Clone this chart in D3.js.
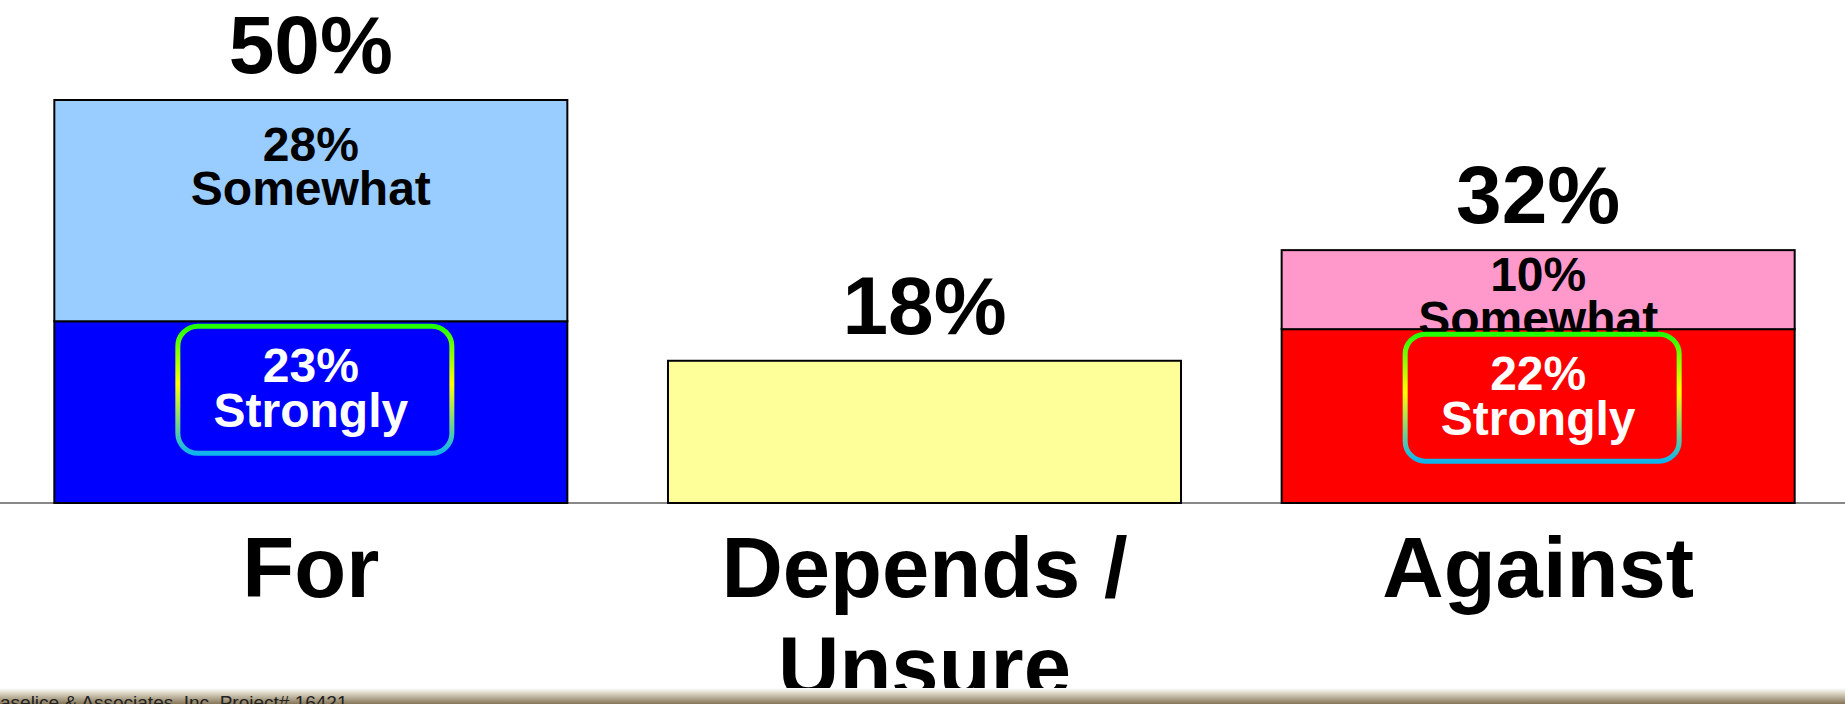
<!DOCTYPE html>
<html>
<head>
<meta charset="utf-8">
<script src="https://cdn.jsdelivr.net/npm/d3@7"></script>
<style>
  body { margin: 0; background: #fff; overflow: hidden; }
  text { font-family: "Liberation Sans", Arial, sans-serif; }
</style>
</head>
<body>
<script>
// data
const categories = ['For', 'Depends / Unsure', 'Against']
const categoryLines = [['For'], ['Depends /', 'Unsure'], ['Against']]
const strongValues = [23, 18, 22]      // bottom segment (Depends is a single bar)
const somewhatValues = [28, 0, 10]     // top segment
const totalLabels = ['50%', '18%', '32%']
const bottomLabels = [['23%', 'Strongly'], null, ['22%', 'Strongly']]
const topLabels = [['28%', 'Somewhat'], null, ['10%', 'Somewhat']]
const bottomColors = ['#0000ff', '#ffff99', '#ff0000']
const topColors = ['#99ccff', null, '#ff99cc']
const footerText = 'aselice & Associates, Inc. Project# 16421'

const W = 1845, H = 704
const baseY = 503

const svg = d3.select('body').append('svg')
    .attr('width', W)
    .attr('height', H)

const defs = svg.append('defs')
const grad = defs.append('linearGradient')
    .attr('id', 'boxStroke')
    .attr('x1', 0).attr('y1', 0).attr('x2', 0).attr('y2', 1)
grad.append('stop').attr('offset', '0%').attr('stop-color', '#22ff00')
grad.append('stop').attr('offset', '45%').attr('stop-color', '#ffff00')
grad.append('stop').attr('offset', '100%').attr('stop-color', '#0fb4ec')

const foot = defs.append('linearGradient')
    .attr('id', 'footer')
    .attr('x1', 0).attr('y1', 0).attr('x2', 0).attr('y2', 1)
foot.append('stop').attr('offset', '0%').attr('stop-color', '#ffffff')
foot.append('stop').attr('offset', '35%').attr('stop-color', '#d8d2c0')
foot.append('stop').attr('offset', '100%').attr('stop-color', '#857658')

const x = d3.scaleBand()
    .domain(categories)
    .range([4, W])
    .paddingInner(0.164)
    .paddingOuter(0.082)

const y = d3.scaleLinear()
    .domain([0, 51])
    .range([baseY, 100])

const bw = x.bandwidth()

// baseline
svg.append('line')
    .attr('x1', 0).attr('x2', W)
    .attr('y1', baseY).attr('y2', baseY)
    .attr('stroke', '#888')
    .attr('stroke-width', 2)

const bars = svg.selectAll('g.bar')
    .data(categories)
    .enter()
    .append('g')
    .attr('class', 'bar')

// bottom segments
bars.append('rect')
    .attr('x', d => x(d))
    .attr('width', bw)
    .attr('y', (d, i) => y(strongValues[i]))
    .attr('height', (d, i) => y(0) - y(strongValues[i]))
    .attr('fill', (d, i) => bottomColors[i])
    .attr('stroke', '#000')
    .attr('stroke-width', 2)

// top segments
bars.filter((d, i) => somewhatValues[i] > 0)
    .append('rect')
    .attr('x', d => x(d))
    .attr('width', bw)
    .attr('y', d => { const i = categories.indexOf(d); return y(strongValues[i] + somewhatValues[i]) })
    .attr('height', d => { const i = categories.indexOf(d); return y(strongValues[i]) - y(strongValues[i] + somewhatValues[i]) })
    .attr('fill', d => topColors[categories.indexOf(d)])
    .attr('stroke', '#000')
    .attr('stroke-width', 2)

// totals above the stacks
bars.append('text')
    .attr('x', d => x(d) + bw / 2)
    .attr('y', (d, i) => y(strongValues[i] + somewhatValues[i]) - 27)
    .attr('text-anchor', 'middle')
    .style('font-size', '82px')
    .style('font-weight', 'bold')
    .text((d, i) => totalLabels[i])

// "Somewhat" labels
categories.forEach((c, i) => {
    if (!topLabels[i]) return
    const segTop = y(strongValues[i] + somewhatValues[i])
    const segH = y(strongValues[i]) - segTop
    const first = segTop + Math.min(61, segH / 2 + 1)
    topLabels[i].forEach((t, k) => {
        svg.append('text')
            .attr('x', x(c) + bw / 2)
            .attr('y', first + k * 44)
            .attr('text-anchor', 'middle')
            .style('font-size', '48px')
            .style('font-weight', 'bold')
            .attr('fill', '#000')
            .text(t)
    })
})

// "Strongly" boxes
categories.forEach((c, i) => {
    if (!bottomLabels[i]) return
    const segTop = y(strongValues[i])
    const cx = x(c) + bw / 2 + 4
    const boxTop = segTop + 5
    svg.append('rect')
        .attr('x', cx - 137)
        .attr('y', boxTop)
        .attr('width', 274)
        .attr('height', 127)
        .attr('rx', 20)
        .attr('fill', 'none')
        .attr('stroke', 'url(#boxStroke)')
        .attr('stroke-width', 5)
    bottomLabels[i].forEach((t, k) => {
        svg.append('text')
            .attr('x', x(c) + bw / 2)
            .attr('y', boxTop + 56 + k * 45)
            .attr('text-anchor', 'middle')
            .style('font-size', '48px')
            .style('font-weight', 'bold')
            .attr('fill', '#fff')
            .text(t)
    })
})

// category labels
categories.forEach((c, i) => {
    categoryLines[i].forEach((t, k) => {
        svg.append('text')
            .attr('x', x(c) + bw / 2)
            .attr('y', 597 + k * 99)
            .attr('text-anchor', 'middle')
            .style('font-size', '85px')
            .style('font-weight', 'bold')
            .text(t)
    })
})

// footer band
svg.append('rect')
    .attr('x', 0).attr('y', 688)
    .attr('width', W).attr('height', 16)
    .attr('fill', 'url(#footer)')

svg.append('text')
    .attr('x', 0)
    .attr('y', 709)
    .style('font-size', '19px')
    .attr('fill', '#222')
    .text(footerText)
</script>
</body>
</html>
